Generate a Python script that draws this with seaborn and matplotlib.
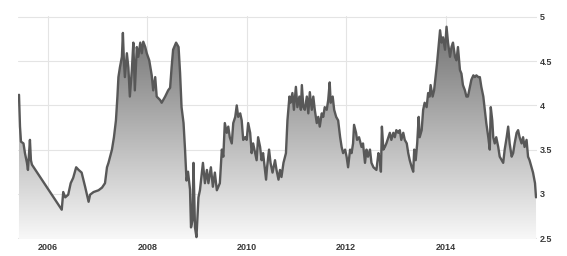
import numpy as np
import pandas as pd
import matplotlib
matplotlib.use("Agg")
import matplotlib.pyplot as plt
import seaborn as sns

years = [2005.42, 2005.44, 2005.46, 2005.51, 2005.54, 2005.58, 2005.60, 2005.64, 2005.66, 2005.68,
         2006.28, 2006.31, 2006.35, 2006.41, 2006.46, 2006.51, 2006.57, 2006.62, 2006.68, 2006.75,
         2006.82, 2006.85, 2006.92, 2007.02, 2007.09, 2007.15, 2007.19, 2007.22, 2007.29, 2007.33,
         2007.37, 2007.40, 2007.42, 2007.45, 2007.49, 2007.51, 2007.53, 2007.55, 2007.59, 2007.62,
         2007.65, 2007.69, 2007.72, 2007.75, 2007.79, 2007.82, 2007.86, 2007.89, 2007.92, 2007.96,
         2007.99, 2008.04, 2008.09, 2008.12, 2008.16, 2008.19, 2008.26, 2008.29, 2008.36, 2008.42,
         2008.46, 2008.49, 2008.52, 2008.58, 2008.63, 2008.66, 2008.69, 2008.73, 2008.76, 2008.79,
         2008.82, 2008.86, 2008.88, 2008.91, 2008.93, 2008.96, 2008.99, 2009.03, 2009.06, 2009.12,
         2009.16, 2009.20, 2009.23, 2009.28, 2009.32, 2009.36, 2009.40, 2009.46, 2009.50, 2009.53,
         2009.56, 2009.60, 2009.63, 2009.66, 2009.70, 2009.73, 2009.77, 2009.80, 2009.83, 2009.87,
         2009.90, 2009.93, 2009.97, 2010.00, 2010.03, 2010.07, 2010.10, 2010.13, 2010.17, 2010.20,
         2010.23, 2010.27, 2010.30, 2010.33, 2010.39, 2010.41, 2010.45, 2010.48, 2010.52, 2010.57,
         2010.60, 2010.64, 2010.67, 2010.70, 2010.74, 2010.79, 2010.82, 2010.86, 2010.88, 2010.92,
         2010.95, 2010.99, 2011.02, 2011.06, 2011.09, 2011.11, 2011.14, 2011.17, 2011.21, 2011.24,
         2011.27, 2011.31, 2011.34, 2011.37, 2011.41, 2011.44, 2011.47, 2011.51, 2011.54, 2011.57,
         2011.61, 2011.64, 2011.67, 2011.69, 2011.73, 2011.76, 2011.80, 2011.84, 2011.88, 2011.91,
         2011.94, 2011.98, 2012.01, 2012.04, 2012.08, 2012.11, 2012.14, 2012.16, 2012.20, 2012.22,
         2012.26, 2012.31, 2012.34, 2012.38, 2012.41, 2012.44, 2012.48, 2012.51, 2012.55, 2012.61,
         2012.65, 2012.68, 2012.70, 2012.72, 2012.75, 2012.78, 2012.81, 2012.85, 2012.88, 2012.91,
         2012.95, 2012.98, 2013.01, 2013.05, 2013.08, 2013.11, 2013.15, 2013.18, 2013.22, 2013.25,
         2013.28, 2013.32, 2013.35, 2013.37, 2013.40, 2013.43, 2013.46, 2013.48, 2013.52, 2013.55,
         2013.58, 2013.62, 2013.65, 2013.68, 2013.70, 2013.74, 2013.77, 2013.80, 2013.83, 2013.86,
         2013.89, 2013.92, 2013.95, 2013.99, 2014.02, 2014.05, 2014.09, 2014.12, 2014.15, 2014.19,
         2014.22, 2014.25, 2014.29, 2014.32, 2014.35, 2014.39, 2014.42, 2014.45, 2014.49, 2014.52,
         2014.56, 2014.59, 2014.62, 2014.66, 2014.69, 2014.72, 2014.76, 2014.79, 2014.82, 2014.86,
         2014.89, 2014.91, 2014.94, 2014.96, 2014.99, 2015.02, 2015.06, 2015.09, 2015.13, 2015.16,
         2015.19, 2015.23, 2015.26, 2015.29, 2015.33, 2015.36, 2015.39, 2015.43, 2015.46, 2015.49,
         2015.53, 2015.56, 2015.59, 2015.63, 2015.66, 2015.69, 2015.73, 2015.76, 2015.80, 2015.82]

values = [4.12, 3.76, 3.59, 3.57, 3.46, 3.35, 3.27, 3.61, 3.38, 3.33,
          2.82, 3.02, 2.96, 2.99, 3.12, 3.18, 3.30, 3.27, 3.24, 3.08,
          2.91, 2.99, 3.02, 3.04, 3.07, 3.12, 3.30, 3.35, 3.50, 3.64,
          3.83, 4.10, 4.32, 4.43, 4.55, 4.82, 4.51, 4.32, 4.59, 4.43,
          4.10, 4.40, 4.71, 4.17, 4.66, 4.55, 4.71, 4.59, 4.72, 4.66,
          4.59, 4.51, 4.34, 4.17, 4.32, 4.10, 4.06, 4.03, 4.10, 4.17,
          4.20, 4.43, 4.63, 4.71, 4.66, 4.37, 3.98, 3.80, 3.50, 3.15,
          3.25, 3.05, 2.62, 2.70, 3.35, 2.62, 2.51, 2.96, 3.04, 3.35,
          3.12, 3.27, 3.12, 3.30, 3.08, 3.24, 3.04, 3.12, 3.50, 3.42,
          3.80, 3.69, 3.76, 3.64, 3.57, 3.80, 3.87, 4.00, 3.87, 3.91,
          3.83, 3.61, 3.64, 3.61, 3.80, 3.69, 3.46, 3.57, 3.46, 3.38,
          3.64, 3.53, 3.38, 3.46, 3.16, 3.30, 3.50, 3.35, 3.24, 3.38,
          3.27, 3.16, 3.27, 3.19, 3.35, 3.46, 3.83, 4.10, 4.03, 4.14,
          3.95, 4.21, 3.98, 4.10, 3.95, 4.23, 3.98, 3.95, 4.10, 3.91,
          4.15, 3.95, 4.10, 3.95, 3.80, 3.87, 3.76, 3.91, 3.87, 3.98,
          3.95, 4.06, 4.26, 4.03, 4.10, 3.95, 3.87, 3.83, 3.64, 3.53,
          3.46, 3.50, 3.42, 3.30, 3.50, 3.46, 3.57, 3.78, 3.69, 3.61,
          3.64, 3.53, 3.57, 3.35, 3.50, 3.42, 3.50, 3.35, 3.30, 3.27,
          3.46, 3.38, 3.25, 3.76, 3.50, 3.53, 3.57, 3.64, 3.69, 3.61,
          3.69, 3.64, 3.72, 3.69, 3.72, 3.61, 3.69, 3.61, 3.57, 3.46,
          3.38, 3.30, 3.25, 3.50, 3.38, 3.57, 3.87, 3.64, 3.72, 3.95,
          4.03, 3.98, 4.14, 4.10, 4.23, 4.10, 4.17, 4.32, 4.48, 4.66,
          4.85, 4.71, 4.77, 4.63, 4.89, 4.71, 4.55, 4.66, 4.71, 4.55,
          4.51, 4.66, 4.40, 4.36, 4.23, 4.17, 4.10, 4.10, 4.21, 4.29,
          4.34, 4.32, 4.34, 4.32, 4.32, 4.21, 4.10, 3.95, 3.80, 3.64,
          3.50, 3.98, 3.83, 3.64, 3.57, 3.64, 3.53, 3.42, 3.38, 3.35,
          3.50, 3.64, 3.76, 3.57, 3.42, 3.46, 3.57, 3.69, 3.72, 3.64,
          3.57, 3.64, 3.53, 3.61, 3.42, 3.38, 3.30, 3.24, 3.12, 2.96]

year_ticks = [2006, 2008, 2010, 2012, 2014]
year_labels = ["2006", "2008", "2010", "2012", "2014"]
value_ticks = [2.5, 3, 3.5, 4, 4.5, 5]
value_labels = ["2.5", "3", "3.5", "4", "4.5", "5"]

df = pd.DataFrame({"year": years, "value": values})

sns.set_style("white")
fig = plt.figure(figsize=(5.67, 2.56), dpi=100)
ax = fig.add_axes([18 / 567, 1 - 239 / 256, 519 / 567, 223 / 256])

ymin, ymax = 2.5 - 0.0113, 5 + 0.0113
xmin, xmax = 2005.40, 2015.84
ax.set_xlim(xmin, xmax)
ax.set_ylim(ymin, ymax)

# gradient fill under the line
poly = ax.fill_between(df["year"], df["value"], ymin, color="none", lw=0)
grad = np.linspace(0, 1, 256).reshape(-1, 1)
cmap = matplotlib.colors.LinearSegmentedColormap.from_list("g", ["#6c6c6c", "#f8f8f8"])
im = ax.imshow(grad, aspect="auto", cmap=cmap, origin="upper",
               extent=[xmin, xmax, ymin, ymax], zorder=1)
im.set_clip_path(poly.get_paths()[0], transform=ax.transData)

sns.lineplot(data=df, x="year", y="value", ax=ax, color="#585858", lw=1.7, zorder=3)

ax.set_xticks(year_ticks)
ax.set_xticklabels(year_labels)
ax.set_yticks(value_ticks)
ax.set_yticklabels(value_labels)
ax.yaxis.tick_right()
ax.grid(True, color="#e4e4e4", lw=0.8, zorder=0)
ax.set_axisbelow(True)
for s in ax.spines.values():
    s.set_visible(False)
ax.tick_params(axis="both", length=0, labelsize=6.5, labelcolor="#3a3a3a")
ax.tick_params(axis="x", pad=3)
ax.tick_params(axis="y", pad=2)
for lab in ax.get_xticklabels() + ax.get_yticklabels():
    lab.set_fontweight("bold")
    lab.set_family("Liberation Sans")
ax.set_xlabel("")
ax.set_ylabel("")

fig.savefig("out.png", dpi=100)
